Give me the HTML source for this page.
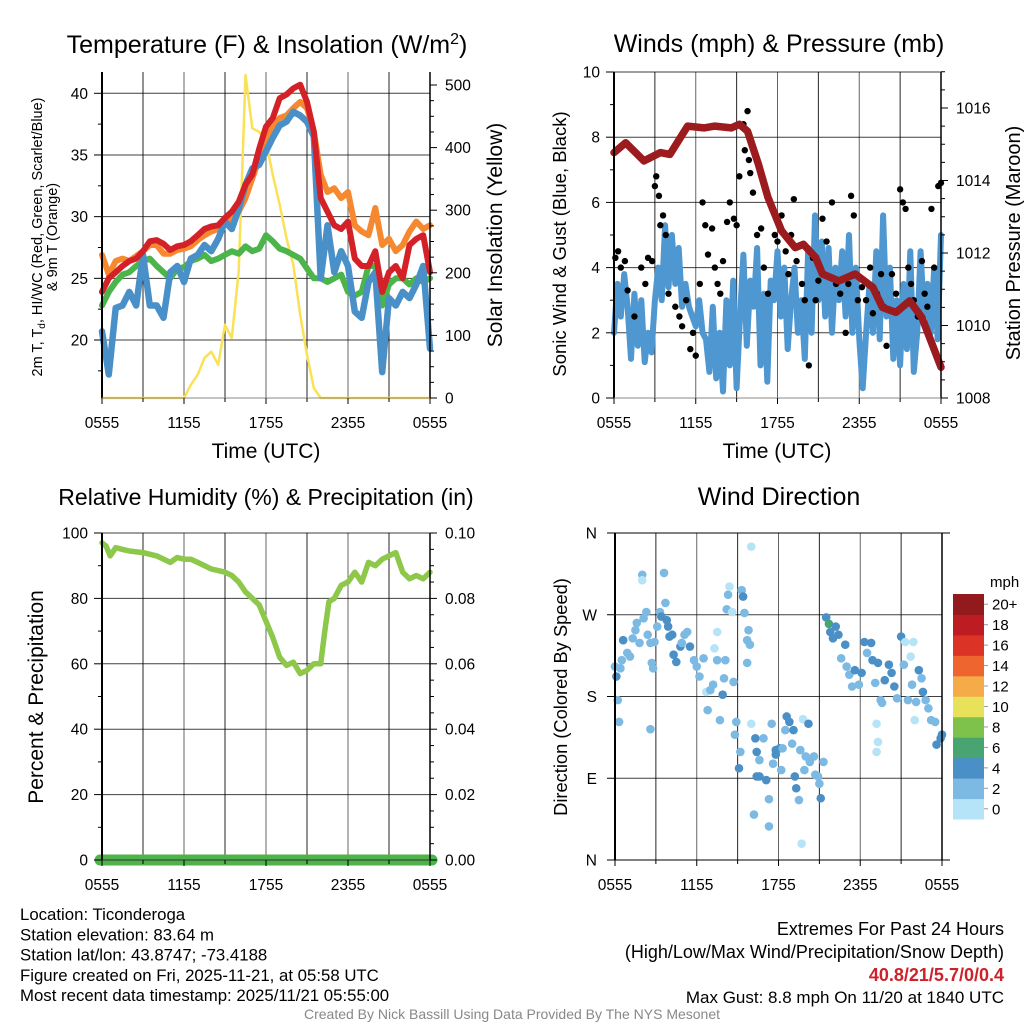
<!DOCTYPE html>
<html><head><meta charset="utf-8"><style>
html,body{margin:0;padding:0;background:#fff;width:1024px;height:1024px;overflow:hidden}
svg{font-family:"Liberation Sans",sans-serif}
</style></head><body>
<svg id="s" width="1024" height="1024" viewBox="0 0 1024 1024" xmlns="http://www.w3.org/2000/svg">
<rect width="1024" height="1024" fill="#fff"/>
<g id="g"></g>
</svg>
<script>
// ---- Panel 1: temperature (every 30 min, 0555 -> 0555) ----
const tempRed=[23.9,25,25.5,26,26.4,26.6,27.2,28,28.1,27.8,27.3,27.6,27.7,28,28.5,29,29.2,29.3,29.9,30.4,31.2,32.6,33.4,35.5,37.3,38,39.6,39.9,40.4,40.7,39.3,36.9,31.5,30.4,29.3,29,29.6,26.6,26,26,27.2,23.9,25.5,26,25,27.7,28.2,28.5,25.5];
const tempOrange=[26.9,25.3,26.4,26.6,26.4,26.8,27.2,27.7,27.7,27,27,27.3,27.4,27.6,28.1,28.5,28.8,29,29.3,29.9,30.4,31.5,33.1,34.7,36.4,37.4,38,38.2,38.8,39.3,38.8,36.9,33.4,32,32.3,31.5,32,29.3,28.8,28.5,30.7,27.7,28.2,27.2,27.7,28.8,29.6,29,29.3];
const tempGreen=[22.8,23.9,24.7,25.3,25.5,26,26.4,26.6,26,25.5,25,25.8,25.9,26.4,26.6,26.9,26.4,26.6,26.9,27.2,27,27.6,27.2,27.4,28.5,28,27.4,27.2,26.9,26.6,25.8,25,25,24.7,25,25.3,23.9,23.6,23.9,26,26,22.8,24.5,25,25,24.5,25,24.7,25];
const tempBlue=[20.7,17.2,22.6,22.8,23.9,22.8,26.9,22.8,22.8,21.8,25.5,26,24.7,26.6,26.9,27.7,27.2,28.2,29.6,29,30.6,32.6,33.9,34.2,35.3,36.4,37.4,37.7,38.5,38.2,37.7,36.5,25,29.3,25.5,27.2,26,22.3,21.8,24.7,25.5,17.4,23.4,22.8,23.9,23.4,24.5,26,19.3];
const solar=[0,0,0,0,0,0,0,0,0,0,0,0,0,21,37,64,74,53,117,96,202,516,431,425,410,356,309,255,213,133,69,16,0,0,0,0,0,0,0,0,0,0,0,0,0,0,0,0,0];
const tempTicks=[20,25,30,35,40];
const solarTicks=[0,100,200,300,400,500];
const timeLabels=["0555","1155","1755","2355","0555"];
// ---- Panel 2: winds (every 15 min) and pressure ----
const windSpeed=[2,3.5,2.5,3.8,2.8,1.2,3.2,1.6,3.0,1.1,2.0,1.4,3.0,4.0,3.0,5.3,3.4,5.0,3.5,4.6,2.8,3.5,2.8,2.5,2.2,3.0,2.0,1.8,0.8,2.8,0.6,2.0,0.2,3.0,1.0,3.6,0.3,2.5,4.4,1.6,3.6,2.8,4.6,1.0,3.2,0.5,3.6,3.0,4.5,2.5,4.0,1.5,3.0,4.0,2.0,3.0,1.2,4.6,2.0,5.6,3.0,4.8,2.5,4.6,2.0,4.0,3.0,4.5,2.5,5.0,2.0,4.0,1.8,0.3,2.0,3.5,2.0,4.5,1.8,5.6,2.5,4.0,1.2,3.0,1.0,3.5,1.5,4.5,0.8,2.0,4.5,2.5,3.5,2.0,4.0,1.8,5.0];
const gustHours=[0.1,0.3,0.5,0.8,1.0,1.5,2.0,2.3,2.5,2.8,3.0,3.1,3.3,3.4,3.6,3.8,4.0,4.5,4.8,5.0,5.3,5.6,5.8,6.0,6.3,6.5,6.7,6.9,7.2,7.4,7.6,7.8,8.0,8.3,8.5,8.8,9.0,9.2,9.5,9.6,9.8,9.9,10.0,10.2,10.5,10.8,11.0,11.3,11.6,11.8,12.0,12.3,12.6,12.8,13.0,13.2,13.4,13.8,14.0,14.3,14.6,14.8,15.0,15.3,15.6,16.0,16.3,16.6,17.0,17.2,17.4,17.6,17.9,18.2,18.5,18.8,19.0,19.3,19.6,19.8,20.0,20.4,20.7,21.0,21.2,21.4,21.6,21.8,22.0,22.3,22.6,22.8,23.0,23.3,23.5,23.8,24.0];
const gustValues=[4.3,4.5,4.0,4.2,3.3,2.5,4.0,3.5,4.3,4.2,6.5,6.8,6.2,5.3,5.6,5.0,3.2,2.8,2.5,2.2,3.0,1.5,2.0,1.3,3.5,6.0,5.3,4.4,5.2,4.0,3.5,3.2,4.2,5.4,6.0,5.5,5.3,6.8,8.4,7.6,8.8,7.3,6.9,6.3,5.0,5.2,4.0,3.2,5.8,5.0,4.8,5.6,4.5,3.8,5.0,6.1,4.2,3.5,3.0,1.0,4.3,3.0,3.6,5.5,4.8,6.0,3.5,3.2,2.0,3.5,6.2,5.6,3.0,3.4,3.0,4.0,2.6,3.2,3.8,2.8,1.6,3.8,3.2,6.4,6.0,5.8,4.0,3.5,3.0,2.5,4.2,3.2,2.8,5.8,4.0,6.5,6.6];
const pressHours=[0,0.86,2.2,3.4,4.1,5.4,6.6,7.4,8.6,9.2,9.8,10.6,11.3,12.3,13.3,13.9,14.8,15.3,16.5,17.7,19.0,19.7,20.7,21.7,22.6,24];
const pressValues=[1014.77,1015.04,1014.54,1014.77,1014.72,1015.5,1015.45,1015.5,1015.45,1015.55,1015.36,1014.45,1013.53,1012.61,1012.15,1012.24,1011.88,1011.42,1011.23,1011.42,1011.05,1010.5,1010.36,1010.68,1010.22,1008.85];
const windTicks=[0,2,4,6,8,10];
const pressTicks=[1008,1010,1012,1014,1016];
// ---- Panel 3: RH ----
const rhHours=[0,0.3,0.6,1,1.5,2,3,4,5,5.5,6,6.5,7,8,8.5,9,9.5,10,10.5,11,11.5,12,12.5,13,13.5,14,14.5,15,15.5,16,16.3,16.6,17,17.5,18,18.5,19,19.5,20,20.5,21,21.5,22,22.5,23,23.5,24];
const rhValues=[97,96,93,95.5,95,94.5,94,93,91,92.5,92,92,91,89,88.5,88,87,85,82,80,78,73,68,62,59.5,60.5,57,58,60,60,70,79,80,84,85,88,85,91,90,92,93,94,88,86,87,86,88];
const rhTicks=[0,20,40,60,80,100];
const precipTicks=["0.00","0.02","0.04","0.06","0.08","0.10"];
// ---- Panel 4: wind direction ----
const dirHours=[0,0.1,0.4,0.2,0.3,0.6,0.5,0.9,1.1,1.3,1.5,1.6,1.8,2.0,2.0,2.1,2.3,2.4,2.6,2.6,2.7,2.8,2.9,3.1,3.3,3.4,3.6,3.7,3.8,3.9,4.0,4.2,4.3,4.5,4.8,4.9,5.1,5.3,5.5,5.8,6.0,6.2,6.5,6.7,6.8,7.0,7.2,7.3,7.5,7.5,7.7,7.9,8.0,8.1,8.2,8.3,8.4,8.6,8.7,8.8,8.9,9.1,9.2,9.3,9.4,9.5,9.7,9.8,9.9,9.7,10.0,10.0,10.2,10.3,10.4,10.4,10.6,10.6,10.9,11.1,11.3,11.3,11.5,11.6,11.8,11.8,12.1,12.2,12.3,12.5,12.6,12.8,13.0,13.1,13.2,13.3,13.5,13.6,13.7,13.8,13.9,14.0,14.2,14.3,14.6,14.7,14.9,15.0,15.1,15.3,15.5,15.7,15.8,16.0,16.2,16.4,16.6,16.9,17.0,17.2,17.4,17.6,17.9,18.1,18.3,18.5,18.8,18.9,19.1,19.3,19.5,19.6,19.2,19.3,19.2,19.8,20.1,20.3,20.5,20.7,21.0,21.2,21.3,21.5,21.7,21.8,21.9,22.0,22.1,22.3,22.5,22.6,22.8,23.0,23.2,23.5,23.6,23.9,24.0];
const dirDegrees=[213,202,211,176,152,242,220,228,224,244,253,261,239,314,308,266,273,248,239,144,217,211,240,257,273,268,316,283,264,257,246,248,226,218,235,239,248,251,235,220,213,202,222,185,165,187,193,233,251,220,154,182,200,220,276,292,301,273,196,138,152,101,119,297,290,272,242,253,237,217,345,150,50,134,119,92,92,110,134,88,67,37,150,106,121,116,123,99,123,143,158,152,128,143,92,79,66,121,18,155,99,114,150,108,114,94,92,84,68,108,267,260,251,244,257,248,222,237,213,204,191,209,193,206,240,228,239,220,195,217,176,173,150,130,119,198,215,206,191,178,246,215,240,176,224,193,240,154,174,209,200,185,176,167,154,152,127,134,138];
const dirSpeeds=[3,5,3,3,3,5,3,3,3,3,3,3,3,3,1,3,3,3,3,3,3,3,3,3,3,5,3,3,5,5,5,5,5,5,5,3,3,3,5,3,3,3,3,1,3,3,3,1,1,3,3,5,3,3,3,3,1,1,3,3,3,5,3,3,5,3,3,3,3,3,1,1,3,5,5,5,5,3,3,5,3,3,3,3,5,5,5,3,3,3,5,5,3,5,5,5,3,3,1,1,3,3,5,3,3,3,3,3,5,3,5,7,5,5,5,5,3,5,3,3,3,5,3,5,5,3,5,5,3,5,3,3,1,1,1,5,5,5,5,3,5,3,1,3,1,3,1,1,3,5,3,5,3,3,3,3,5,5,5];
const dirLabels=["N","E","S","W","N"];
const speedLabels=["0","2","4","6","8","10","12","14","16","18","20+"];
const speedColors=["#b5e3f7","#7cb9e3","#4a8fc6","#48a572","#7ec24c","#e7e25a","#f6ab49","#ef6530","#dc3327","#bc1c22","#931a1c"];

const NS="http://www.w3.org/2000/svg";
const G=document.getElementById('g');
const TK=15.5;
function el(tag,attrs,parent){const e=document.createElementNS(NS,tag);for(const k in attrs)e.setAttribute(k,attrs[k]);(parent||G).appendChild(e);return e;}
function txt(x,y,s,size,anchor,extra,parent){const e=el('text',Object.assign({x:x,y:y,'font-size':size,'text-anchor':anchor||'middle',fill:'#000'},extra||{}),parent);e.textContent=s;return e;}
function scale(d0,d1,r0,r1){return v=>r0+(v-d0)/(d1-d0)*(r1-r0);}
function poly(xs,ys,sx,sy,stroke,w,name,parent){
  const pts=xs.map((x,i)=>sx(x).toFixed(1)+','+sy(ys[i]).toFixed(1)).join(' ');
  const p=el('polyline',{points:pts,fill:'none',stroke:stroke,'stroke-width':w,'stroke-linejoin':'round','stroke-linecap':'round'},parent);
  
  
  return p;
}
function grid(L,R,T,B,hy,parent){
  for(let i=0;i<=8;i++){const x=L+(R-L)*i/8;el('line',{x1:x,y1:T,x2:x,y2:B,stroke:'#000','stroke-width':1,opacity:(i%2?0.85:0.6)},parent);}
  hy.forEach(y=>el('line',{x1:L,y1:y,x2:R,y2:y,stroke:'#000','stroke-width':1,opacity:0.75},parent));
}
function frame(L,R,T,B,parent){
  el('line',{x1:L,y1:T,x2:L,y2:B,stroke:'#000','stroke-width':2},parent);
  el('line',{x1:R,y1:T,x2:R,y2:B,stroke:'#000','stroke-width':1.5},parent);
}
function xAxis(L,R,B,parent){
  for(let i=0;i<=8;i++){const x=L+(R-L)*i/8;el('line',{x1:x,y1:B,x2:x,y2:B+(i%2?4:6),stroke:'#000','stroke-width':1},parent);}
  timeLabels.forEach((s,i)=>{const t=txt(L+(R-L)*i/4,B+30,s,TK,'middle',{},parent);});
}
function yTicksLeft(L,vals,sy,minorVals,labels,parent){
  vals.forEach((v,i)=>{el('line',{x1:L-8,y1:sy(v),x2:L,y2:sy(v),stroke:'#000','stroke-width':1},parent);txt(L-14,sy(v)+5.5,labels?labels[i]:String(v),TK,'end',{},parent);});
  minorVals.forEach(v=>el('line',{x1:L-4,y1:sy(v),x2:L,y2:sy(v),stroke:'#000','stroke-width':1},parent));
}
function yTicksRight(R,vals,sy,minorVals,labels,parent){
  vals.forEach((v,i)=>{el('line',{x1:R,y1:sy(v),x2:R+7,y2:sy(v),stroke:'#000','stroke-width':1},parent);txt(R+15,sy(v)+5.5,labels?labels[i]:String(v),TK,'start',{},parent);});
  minorVals.forEach(v=>el('line',{x1:R,y1:sy(v),x2:R+4,y2:sy(v),stroke:'#000','stroke-width':1},parent));
}
function range(a,b,s){const r=[];for(let v=a;v<=b+1e-9;v+=s)r.push(+v.toFixed(4));return r;}

// ===== Panel 1 =====
(function(){
  const P=el('g',{});
  const L=102,R=430,T=72,B=398;
  const sy=scale(20,40,340,93.3), sr=scale(0,500,398,85);
  const idx=tempRed.map((_,i)=>i); const sx=scale(0,48,L,R);
  grid(L,R,T,B,tempTicks.map(sy),P);
  poly(idx,solar,sx,sr,'#fbe155',2.5,'solar-insolation-line',P);
  poly(idx,tempOrange,sx,sy,'#f6892f',6,'9m-temperature-line',P);
  poly(idx,tempGreen,sx,sy,'#4bb44a',6,'dewpoint-line',P);
  poly(idx,tempBlue,sx,sy,'#4a90c8',6.5,'windchill-line',P);
  poly(idx,tempRed,sx,sy,'#d42128',6,'temperature-line',P);
  frame(L,R,T,B,P);
  el('line',{x1:L,y1:B,x2:R,y2:B,stroke:'#888','stroke-width':1},P);
  xAxis(L,R,B,P);
  yTicksLeft(L,tempTicks,sy,range(17.5,40,2.5).filter(v=>v%5),null,P);
  yTicksRight(R,solarTicks,sr,range(25,525,25).filter(v=>v%100&&v<=520),null,P);
  const t=txt(267,53,'',25,'middle',{},P);t.innerHTML='Temperature (F) &amp; Insolation (W/m<tspan dy="-9" font-size="16">2</tspan><tspan dy="9">)</tspan>';
  
  txt(266,458,'Time (UTC)',21,'middle',{},P);
  const a=txt(0,0,'',14.5,'middle',{transform:'translate(42,237) rotate(-90)'},P);a.innerHTML='2m T, T<tspan font-size="10" dy="3">d</tspan><tspan dy="-3">, HI/WC (Red, Green, Scarlet/Blue)</tspan>';
  
  txt(0,0,'& 9m T (Orange)',14.5,'middle',{transform:'translate(57,237) rotate(-90)'},P);
  txt(0,0,'Solar Insolation (Yellow)',21,'middle',{transform:'translate(502,235) rotate(-90)'},P);
})();

// ===== Panel 2 =====
(function(){
  const P=el('g',{});
  const L=614,R=941,T=72,B=398;
  const sy=scale(0,10,398,72), sp=scale(1008,1016,398,108);
  const sx=scale(0,24,L,R), si=scale(0,windSpeed.length-1,L,R);
  grid(L,R,T,B,windTicks.map(sy),P);
  poly(windSpeed.map((_,i)=>i),windSpeed,si,sy,'#4f97d1',6,'sonic-wind-line',P);
  gustHours.forEach((h,i)=>{const c=el('circle',{cx:sx(h),cy:sy(gustValues[i]),r:3.2,fill:'#000'},P);
    
    });
  poly(pressHours,pressValues,sx,sp,'#9b1b1e',7.5,'pressure-line',P);
  frame(L,R,T,B,P);
  el('line',{x1:L,y1:B,x2:R,y2:B,stroke:'#888','stroke-width':1},P);
  xAxis(L,R,B,P);
  yTicksLeft(L,windTicks,sy,range(1,9,2),null,P);
  yTicksRight(R,pressTicks,sp,range(1008.5,1017,0.5).filter(v=>v%2),null,P);
  txt(779,52,'Winds (mph) & Pressure (mb)',25,'middle',{},P);
  txt(777,458,'Time (UTC)',21,'middle',{},P);
  txt(0,0,'Sonic Wind & Gust (Blue, Black)',18.5,'middle',{transform:'translate(566,244) rotate(-90)'},P);
  txt(0,0,'Station Pressure (Maroon)',20,'middle',{transform:'translate(1020,243) rotate(-90)'},P);
})();

// ===== Panel 3 =====
(function(){
  const P=el('g',{});
  const L=102,R=430,T=533,B=860;
  const sy=scale(0,100,860,533), sx=scale(0,24,L,R);
  grid(L,R,T,B,rhTicks.map(sy),P);
  poly(rhHours,rhValues,sx,sy,'#8dc84b',5.5,'relative-humidity-line',P);
  const pr=el('line',{x1:L-2,y1:B,x2:R+2,y2:B,stroke:'#4db34a','stroke-width':11,'stroke-linecap':'round'},P);
  
  frame(L,R,T,B,P);
  el('line',{x1:L,y1:B,x2:R,y2:B,stroke:'#333','stroke-width':1},P);
  xAxis(L,R,B,P);
  yTicksLeft(L,rhTicks,sy,range(10,90,20),null,P);
  yTicksRight(R,rhTicks,sy,range(5,95,5).filter(v=>v%20),precipTicks,P);
  txt(266,505,'Relative Humidity (%) & Precipitation (in)',23,'middle',{},P);
  txt(0,0,'Percent & Precipitation',21,'middle',{transform:'translate(43,697) rotate(-90)'},P);
})();

// ===== Panel 4 =====
(function(){
  const P=el('g',{});
  const L=615,R=942,T=533,B=860;
  const sy=scale(0,360,860,533), sx=scale(0,24,L,R);
  grid(L,R,T,B,[0,90,180,270,360].map(sy),P);
  el('line',{x1:L-8,y1:T,x2:R+8,y2:T,stroke:'#000','stroke-width':1},P);
  el('line',{x1:L-8,y1:B,x2:R+8,y2:B,stroke:'#000','stroke-width':1},P);
  dirHours.forEach((h,i)=>{const ci=Math.min(10,Math.floor(dirSpeeds[i]/2));
    const c=el('circle',{cx:sx(h),cy:sy(dirDegrees[i]),r:4.3,fill:speedColors[ci]},P);
    
    });
  frame(L,R,T,B,P);
  xAxis(L,R,B,P);
  [0,90,180,270,360].forEach((v,i)=>{el('line',{x1:L-8,y1:sy(v),x2:L,y2:sy(v),stroke:'#000'},P);txt(597,sy(v)+5.5,dirLabels[i],TK,'end',{},P);});
  txt(779,505,'Wind Direction',25,'middle',{},P);
  txt(0,0,'Direction (Colored By Speed)',18.3,'middle',{transform:'translate(567,697) rotate(-90)'},P);
  const cb=el('g',{},P);
  const cbT=594,cbH=225/11;
  speedColors.forEach((c,i)=>{const y=cbT+(10-i)*cbH;el('rect',{x:953,y:y,width:31,height:cbH+0.5,fill:c},cb);
    el('line',{x1:984,y1:y+cbH/2,x2:988,y2:y+cbH/2,stroke:'#999'},cb);
    txt(992,y+cbH/2+5.5,speedLabels[i],15,'start',{},cb);});
  txt(990,587,'mph',15,'start',{},cb);
})();

// ===== Footer text =====
(function(){
  const F=el('g',{});
  ["Location: Ticonderoga","Station elevation: 83.64 m","Station lat/lon: 43.8747; -73.4188","Figure created on Fri, 2025-11-21, at 05:58 UTC","Most recent data timestamp: 2025/11/21 05:55:00"].forEach((s,i)=>txt(20,920+i*20.3,s,16.8,'start',{},F));
  const E=el('g',{});
  txt(1004,935,'Extremes For Past 24 Hours',18,'end',{},E);
  txt(1004,958,'(High/Low/Max Wind/Precipitation/Snow Depth)',18,'end',{},E);
  txt(1004,981,'40.8/21/5.7/0/0.4',18,'end',{fill:'#cc2229','font-weight':'bold'},E);
  txt(1004,1003,'Max Gust: 8.8 mph On 11/20 at 1840 UTC',17,'end',{},E);
  const c=txt(512,1019,'Created By Nick Bassill Using Data Provided By The NYS Mesonet',14,'middle',{fill:'#888'});
  
})();
</script>
</body></html>
